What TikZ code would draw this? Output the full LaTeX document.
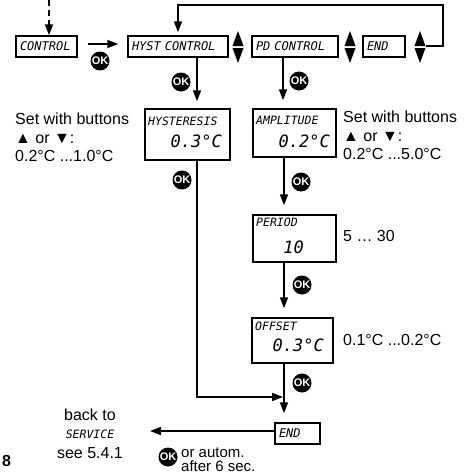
\documentclass[tikz,border=0pt]{standalone}
\usepackage{fontspec}
\setmainfont{Liberation Sans}
\newfontfamily\lcdfont{DejaVu Sans Mono}
\usetikzlibrary{arrows.meta}
\tikzset{
  line/.style={line width=1.6pt},
  arr/.style={line width=1.6pt,-{Triangle[length=11pt,width=8pt]}},
  sbox/.style={draw,line width=1.5pt,inner xsep=4pt,inner ysep=0pt,minimum height=21pt,text width=#1,align=left,font=\lcdfont\itshape\fontsize{12}{12}\selectfont},
  bbox/.style={draw,line width=1.5pt,inner sep=0pt},
  lcdlab/.style={inner sep=0pt,font=\lcdfont\itshape\fontsize{11.5}{11.5}\selectfont},
  lcdval/.style={inner sep=0pt,font=\lcdfont\itshape\fontsize{17}{17}\selectfont},
  body/.style={inner sep=0pt,font=\fontsize{16}{18.5}\selectfont},
  ok/.style={circle,fill=black,text=white,inner sep=0pt,minimum size=19pt,font=\bfseries\fontsize{11}{11}\selectfont},
  updown/.pic={
    \fill (-5.5,-1) -- (5.5,-1) -- (0,-16) -- cycle;
    \fill (-5.5,1) -- (5.5,1) -- (0,16) -- cycle;
  }
}
\begin{document}
\begin{tikzpicture}[x=1pt,y=-1pt]
\useasboundingbox (0,0) rectangle (464,474);
% top row
\node[sbox=53pt] (ctrl) at (46.5,46.5) {CONTROL};
\node[sbox=92pt] (hyst) at (178,46.5) {HYST CONTROL};
\node[sbox=78pt] (pd) at (295,46.5) {PD CONTROL};
\node[sbox=34pt] (endt) at (384,46.5) {END};
\pic at (238,47) {updown};
\pic at (350,47) {updown};
\pic at (420,47) {updown};
\coordinate (udr) at (426,46);
\coordinate (top) at (49,0);
\draw[arr,dash pattern=on 6pt off 4pt] (top) -- (top |- ctrl.north);
\draw[arr,shorten <=10pt,shorten >=9pt] (ctrl.east |- 0,44) -- (hyst.west |- 0,44);
\node[ok] (ok1) at (100,61) {OK};
\draw[arr,shorten >=3pt] (udr) -- (443,46) -- (443,5) -- (hyst.north |- 0,5) -- (hyst.north);
% big boxes
\node[bbox,minimum width=85pt,minimum height=51pt] (hys) at (187.5,134.5) {};
\node[lcdlab,anchor=north west] (hysl) at (148,117) {HYSTERESIS};
\node[lcdval,anchor=base east] (hysv) at (222,147) {0.3°C};
\node[bbox,minimum width=83pt,minimum height=48pt] (amp) at (294.5,133) {};
\node[lcdlab,anchor=north west] (ampl) at (256,116) {AMPLITUDE};
\node[lcdval,anchor=base east] (ampv) at (330,147) {0.2°C};
\node[bbox,minimum width=83pt,minimum height=47pt] (per) at (294.5,238.5) {};
\node[lcdlab,anchor=north west] (perl) at (256,218) {PERIOD};
\node[lcdval,anchor=base east] (perv) at (304,253) {10};
\node[bbox,minimum width=81pt,minimum height=45pt] (off) at (292.5,340.5) {};
\node[lcdlab,anchor=north west] (offl) at (255,322) {OFFSET};
\node[lcdval,anchor=base east] (offv) at (324,351) {0.3°C};
\node[sbox=37pt] (endb) at (297.5,433.5) {END};
% vertical arrows
\draw[arr,shorten >=7pt] (hyst.south -| 197,0) -- (hys.north -| 197,0);
\node[ok] (ok2) at (181,82) {OK};
\draw[arr,shorten >=8pt] (pd.south -| 283,0) -- (amp.north -| 283,0);
\node[ok] (ok3) at (299,81) {OK};
\draw[arr,shorten >=9pt] (amp.south -| 284,0) -- (per.north -| 284,0);
\node[ok] (ok4) at (301,182) {OK};
\draw[arr,shorten >=9pt] (per.south -| 284,0) -- (off.north -| 284,0);
\node[ok] (ok5) at (302,285) {OK};
\draw[arr,shorten >=9pt] (off.south -| 284,0) -- (endb.north -| 284,0);
\node[ok] (ok6) at (302,383) {OK};
\coordinate (join) at (283,397);
\draw[arr] (hys.south -| 197,0) -- (197,397) -- (join);
\node[ok] (ok7) at (182,180) {OK};
\coordinate (back) at (150,431);
\draw[arr] (endb.west |- back) -- (back);
\node[ok] (ok8) at (168,457) {OK};
% texts
\node[body,anchor=north west,align=left] (tl) at (15,113) {Set with buttons\\▲ or ▼:\\0.2°C ...1.0°C};
\node[body,anchor=north west,align=left] (tr) at (343,111) {Set with buttons\\▲ or ▼:\\0.2°C ...5.0°C};
\node[body,anchor=base west] (tp) at (343,241) {5 … 30};
\node[body,anchor=base west] (to) at (343,345) {0.1°C ...0.2°C};
\node[body,anchor=base] (bk1) at (90,420) {back to};
\node[lcdlab,anchor=base] (bk2) at (90,438) {SERVICE};
\node[body,anchor=base] (bk3) at (90,458) {see 5.4.1};
\node[body,anchor=base west,font=\fontsize{15}{15}\selectfont] (auto1) at (181,457) {or autom.};
\node[body,anchor=base west,font=\fontsize{15}{15}\selectfont] (auto2) at (181,471) {after 6 sec.};
\node[body,anchor=base west,font=\bfseries\fontsize{16}{16}\selectfont] (num) at (2,466) {8};
\end{tikzpicture}
\end{document}
